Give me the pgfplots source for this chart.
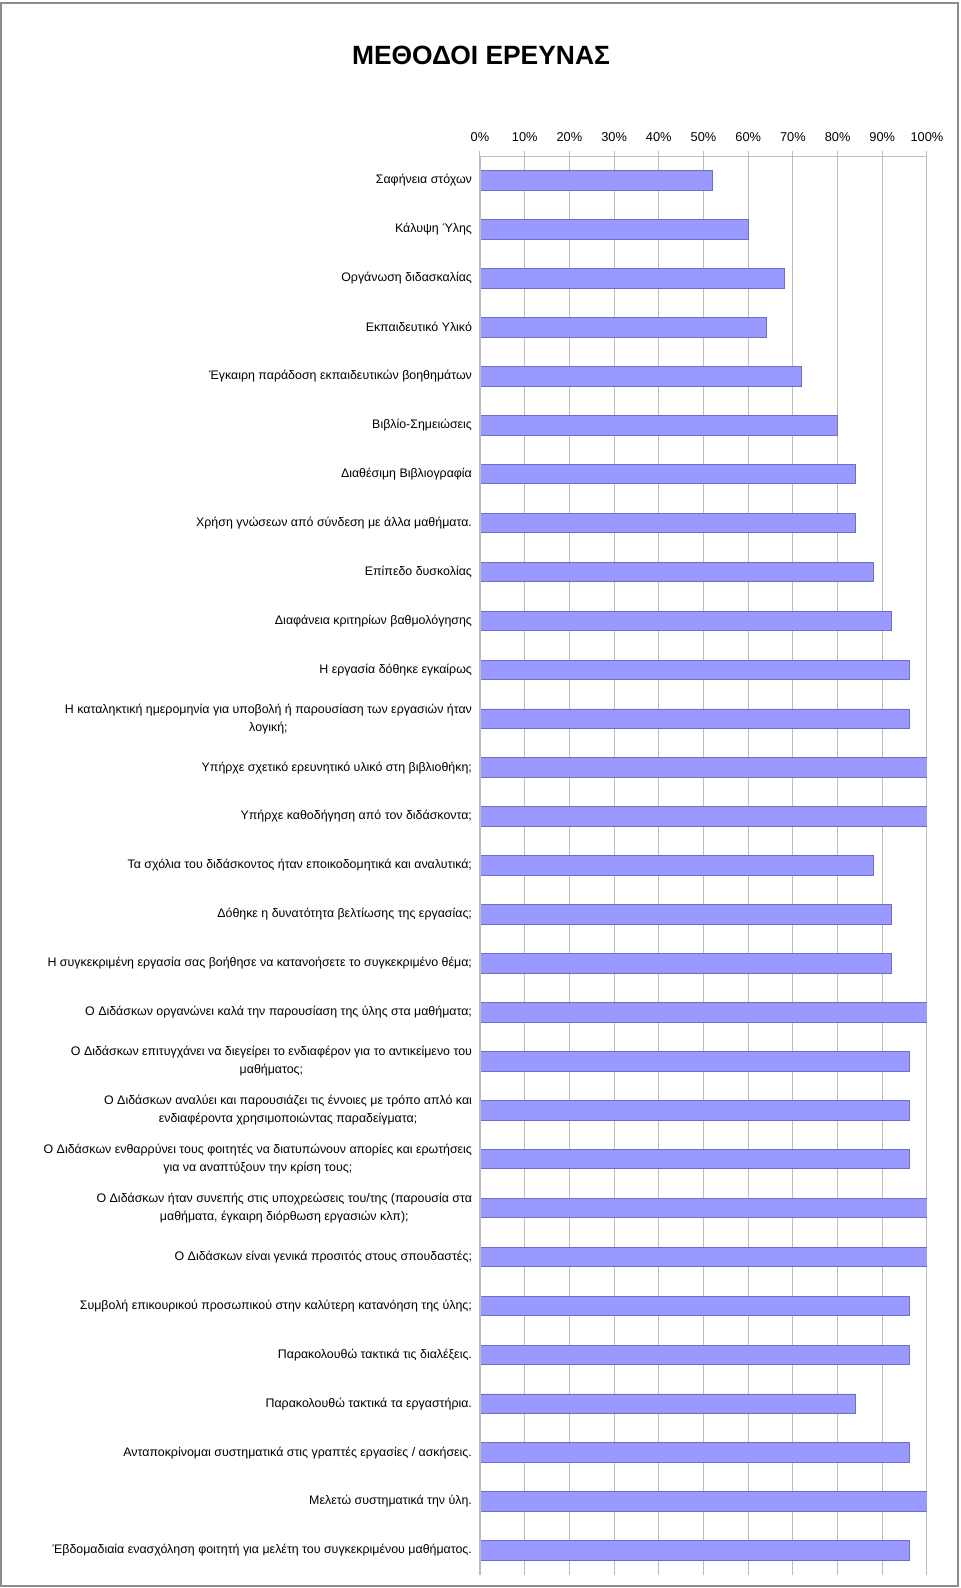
\documentclass[border=0pt]{standalone}
\usepackage{pgfplots}
\pgfplotsset{compat=1.18}
\usepackage{fontspec}
\setmainfont{Liberation Sans}
\definecolor{barfill}{HTML}{9999FF}
\definecolor{baredge}{HTML}{6E6EC8}
\definecolor{gridc}{HTML}{BEBEBE}
\definecolor{framec}{HTML}{8C8C8C}
\begin{document}
\begin{tikzpicture}
\useasboundingbox (-360pt,-9.75pt) rectangle (360pt,1181.25pt);
\fill[white] (-360pt,-9.75pt) rectangle (360pt,1181.25pt);
\draw[framec, line width=0.9pt] (-359.25pt,-8.25pt) rectangle (358.5pt,1179pt);
\begin{axis}[
  at={(0pt,0pt)}, anchor=south west,
  scale only axis, width=335.25pt, height=1064.25pt,
  xbar, bar width=0.4,
  xmin=0, xmax=100, ymin=-0.5, ymax=28.5,
  axis line style={draw=none},
  xtick={0,10,...,100},
  xticklabels={0\%,10\%,20\%,30\%,40\%,50\%,60\%,70\%,80\%,90\%,100\%},
  xticklabel pos=right, xtick pos=right,
  tick align=outside, major tick length=3.5pt,
  xtick style={gridc, line width=0.75pt},
  xmajorgrids, major grid style={gridc, line width=0.75pt},
  xticklabel style={font=\fontsize{9.6}{11}\selectfont, yshift=4pt},
  ytick={0,...,28},
  ytick style={draw=none},
  yticklabel style={font=\fontsize{9.3}{13.5}\selectfont, align=center, xshift=1pt},
  yticklabels={
    {Έβδομαδιαία ενασχόληση φοιτητή για μελέτη του συγκεκριμένου μαθήματος.},
    {Μελετώ συστηματικά την ύλη.},
    {Ανταποκρίνομαι συστηματικά στις γραπτές εργασίες / ασκήσεις.},
    {Παρακολουθώ τακτικά τα εργαστήρια.},
    {Παρακολουθώ τακτικά τις διαλέξεις.},
    {Συμβολή επικουρικού προσωπικού στην καλύτερη κατανόηση της ύλης;},
    {Ο Διδάσκων είναι γενικά προσιτός στους σπουδαστές;},
    {Ο Διδάσκων ήταν συνεπής στις υποχρεώσεις του/της (παρουσία στα\\μαθήματα, έγκαιρη διόρθωση εργασιών κλπ);},
    {Ο Διδάσκων ενθαρρύνει τους φοιτητές να διατυπώνουν απορίες και ερωτήσεις\\για να αναπτύξουν την κρίση τους;},
    {Ο Διδάσκων αναλύει και παρουσιάζει τις έννοιες με τρόπο απλό και\\ενδιαφέροντα χρησιμοποιώντας παραδείγματα;},
    {Ο Διδάσκων επιτυγχάνει να διεγείρει το ενδιαφέρον για το αντικείμενο του\\μαθήματος;},
    {Ο Διδάσκων οργανώνει καλά την παρουσίαση της ύλης στα μαθήματα;},
    {Η συγκεκριμένη εργασία σας βοήθησε να κατανοήσετε το συγκεκριμένο θέμα;},
    {Δόθηκε η δυνατότητα βελτίωσης της εργασίας;},
    {Τα σχόλια του διδάσκοντος ήταν εποικοδομητικά και αναλυτικά;},
    {Υπήρχε καθοδήγηση από τον διδάσκοντα;},
    {Υπήρχε σχετικό ερευνητικό υλικό στη βιβλιοθήκη;},
    {Η καταληκτική ημερομηνία για υποβολή ή παρουσίαση των εργασιών ήταν\\λογική;},
    {Η εργασία δόθηκε εγκαίρως},
    {Διαφάνεια κριτηρίων βαθμολόγησης},
    {Επίπεδο δυσκολίας},
    {Χρήση γνώσεων από σύνδεση με άλλα μαθήματα.},
    {Διαθέσιμη Βιβλιογραφία},
    {Βιβλίο-Σημειώσεις},
    {Έγκαιρη παράδοση εκπαιδευτικών βοηθημάτων},
    {Εκπαιδευτικό Υλικό},
    {Οργάνωση διδασκαλίας},
    {Κάλυψη Ύλης},
    {Σαφήνεια στόχων}
  },
]
\addplot[fill=barfill, draw=baredge, line width=0.6pt] coordinates {
  (96,0) (100,1) (96,2) (84,3) (96,4) (96,5) (100,6) (100,7) (96,8) (96,9)
  (96,10) (100,11) (92,12) (92,13) (88,14) (100,15) (100,16) (96,17) (96,18) (92,19)
  (88,20) (84,21) (84,22) (80,23) (72,24) (64,25) (68,26) (60,27) (52,28)
};
\end{axis}
\draw[gridc, line width=0.75pt] (current axis.north west) -- (current axis.north east);
\draw[gridc, line width=0.75pt] (current axis.south west) -- (current axis.north west);
\node[font=\bfseries\fontsize{19.8}{23}\selectfont] at (0.75pt,1139.5pt) {ΜΕΘΟΔΟΙ ΕΡΕΥΝΑΣ};
\end{tikzpicture}
\end{document}
